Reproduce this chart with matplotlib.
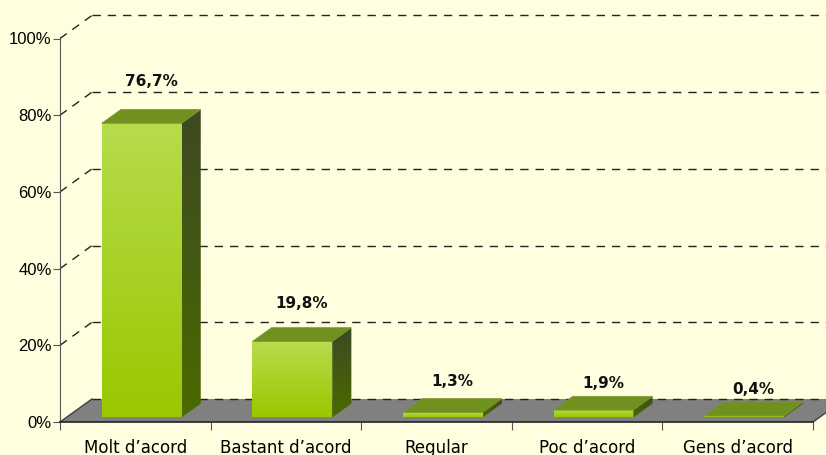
import numpy as np
import matplotlib.pyplot as plt
from matplotlib.patches import Polygon
from matplotlib.colors import LinearSegmentedColormap

categories = ['Molt d\u2019acord', 'Bastant d\u2019acord', 'Regular', 'Poc d\u2019acord', 'Gens d\u2019acord']
values = [76.7, 19.8, 1.3, 1.9, 0.4]
labels = ['76,7%', '19,8%', '1,3%', '1,9%', '0,4%']
yticks = [0, 20, 40, 60, 80, 100]

# label gap above each bar, in points
label_gap = [15, 12, 7, 4, 4]

bg = '#FFFFE0'
plt.rcParams['font.family'] = ['DejaVu Sans']

fig = plt.figure(figsize=(8.26, 4.55), dpi=100, facecolor=bg)
ax = fig.add_axes([60 / 826, 33 / 455, 753 / 826, 383.5 / 455])
ax.set_facecolor('none')
n = len(categories)
ax.set_xlim(0, n)
ax.set_ylim(0, 100)

# depth offset of the back wall in data units
DX, DY = 0.212, 6.0

# floor
ax.add_patch(Polygon([(0, 0), (n, 0), (n + DX, DY), (DX, DY)], closed=True,
                     facecolor='#808080', edgecolor='none', clip_on=False, zorder=1))
ax.plot([n, n + DX], [0, DY], color='#404040', lw=1, clip_on=False, zorder=2)
ax.plot([0, DX], [0, DY], color='#404040', lw=1, clip_on=False, zorder=2)

# gridlines on left wall and back wall
for v in yticks:
    if v > 0:
        ax.plot([0, DX], [v, v + DY], color='#222222', lw=1, ls=(0, (6, 5)),
                clip_on=False, zorder=1)
    ax.plot([DX, n + 0.1], [v + DY, v + DY], color='#222222', lw=1,
            ls=(0, (6, 5)), clip_on=False, zorder=1)

front_cmap = LinearSegmentedColormap.from_list('front', ['#99c800', '#b6dc4c'])
side_cmap = LinearSegmentedColormap.from_list('side', ['#4b6a00', '#3d4a22'])
grad = np.linspace(0, 1, 64).reshape(-1, 1)

w = 0.53
d0, d1 = 0.2, 0.8
for i, v in enumerate(values):
    x0 = i + 0.5 - w / 2 + d0 * DX
    x1 = x0 + w
    y0 = d0 * DY
    y1 = y0 + v
    ddx = (d1 - d0) * DX
    ddy = (d1 - d0) * DY
    # front face
    ax.imshow(grad, extent=[x0, x1, y0, y1], origin='lower', cmap=front_cmap,
              aspect='auto', zorder=3, interpolation='bilinear')
    # side face
    side = Polygon([(x1, y0), (x1 + ddx, y0 + ddy), (x1 + ddx, y1 + ddy), (x1, y1)],
                   closed=True, facecolor='none', edgecolor='none', zorder=3)
    ax.add_patch(side)
    im = ax.imshow(grad, extent=[x1, x1 + ddx, y0, y1 + ddy], origin='lower',
                   cmap=side_cmap, aspect='auto', zorder=3, interpolation='bilinear')
    im.set_clip_path(side)
    # top face
    ax.add_patch(Polygon([(x0, y1), (x1, y1), (x1 + ddx, y1 + ddy), (x0 + ddx, y1 + ddy)],
                         closed=True, facecolor='#70901f', edgecolor='#7a9530',
                         lw=0.5, zorder=4))
    ax.annotate(labels[i], ((x0 + x1 + ddx) / 2, y1 + ddy), xytext=(0, label_gap[i]),
                textcoords='offset points', ha='center', va='bottom',
                fontsize=11, fontweight='bold', color='#111111', zorder=5)

ax.set_xlim(0, n)
ax.set_ylim(0, 100)

for s in ['top', 'right']:
    ax.spines[s].set_visible(False)
ax.spines['left'].set_color('#555555')
ax.spines['bottom'].set_color('#222222')
ax.spines['bottom'].set_linewidth(1.2)
ax.set_yticks(yticks)
ax.set_yticklabels([f'{t}%' for t in yticks], family=['Liberation Sans Narrow', 'Liberation Sans'],
                   fontsize=12)
ax.set_xticks(np.arange(n + 1))
ax.set_xticklabels([])
ax.set_xticks(np.arange(n) + 0.5, minor=True)
ax.set_xticklabels(categories, minor=True)
ax.tick_params(axis='x', which='minor', length=0, pad=12, labelsize=12)
ax.tick_params(axis='x', which='major', length=6, color='#555555')
ax.tick_params(axis='y', length=5, color='#555555', pad=1)

fig.savefig('out.png', dpi=100, facecolor=bg)
